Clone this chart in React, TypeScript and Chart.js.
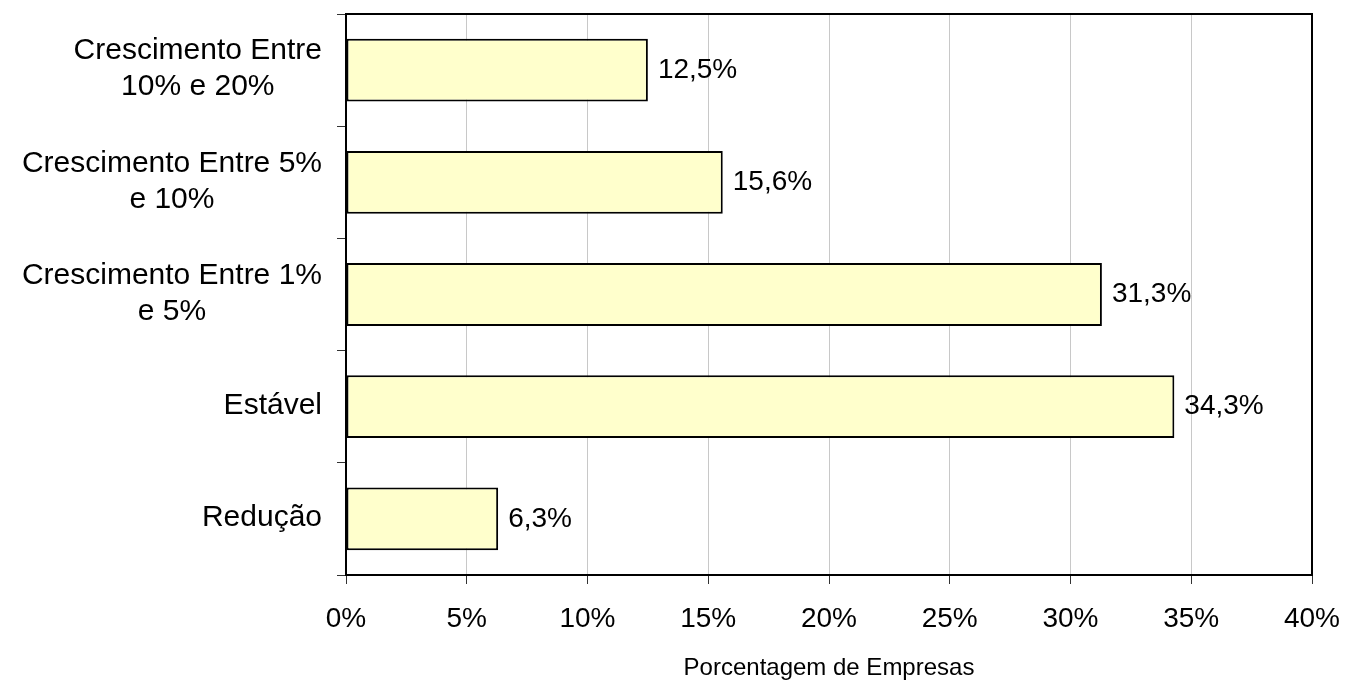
import React, { useEffect, useRef } from "react";
import { Chart, registerables } from "chart.js";

Chart.register(...registerables);

const categories: string[][] = [
  ["Crescimento Entre", "10% e 20%"],
  ["Crescimento Entre 5%", "e 10%"],
  ["Crescimento Entre 1%", "e 5%"],
  ["Estável"],
  ["Redução"],
];
const values: number[] = [12.5, 15.6, 31.3, 34.3, 6.3];
const xTicksMin = 0;
const xTicksMax = 40;
const xTicksStep = 5;
const axisTitle = "Porcentagem de Empresas";

const FONT = '"Liberation Sans", Arial, Helvetica, sans-serif';

const customPlugin = {
  id: "customDraw",
  afterDatasetsDraw(chart: any) {
    const ctx = chart.ctx;
    const area = chart.chartArea;
    const yScale = chart.scales.y;
    ctx.save();
    // frame
    ctx.strokeStyle = "#000";
    ctx.lineWidth = 2;
    ctx.strokeRect(area.left, area.top, area.right - area.left, area.bottom - area.top);

    // y labels (multi-line, centered lines, right-aligned block)
    ctx.font = `30px ${FONT}`;
    ctx.fillStyle = "#000";
    ctx.textAlign = "center";
    ctx.textBaseline = "middle";
    const rightEdge = area.left - 24;
    const lineH = 36;
    categories.forEach((lines, i) => {
      const cy = yScale.getPixelForValue(i);
      const maxW = Math.max(...lines.map((l) => ctx.measureText(l).width));
      const cx = rightEdge - maxW / 2;
      lines.forEach((l, j) => {
        const y = cy + (j - (lines.length - 1) / 2) * lineH - 1;
        ctx.fillText(l, cx, y);
      });
    });

    // data labels
    ctx.font = `28px ${FONT}`;
    const meta = chart.getDatasetMeta(0);
    ctx.textAlign = "left";
    meta.data.forEach((bar: any, i: number) => {
      const txt = values[i].toFixed(1).replace(".", ",") + "%";
      ctx.fillText(txt, bar.x + 10, bar.y);
    });
    ctx.restore();
  },
};

export default function App() {
  const ref = useRef<HTMLCanvasElement>(null);
  useEffect(() => {
    if (!ref.current) return;
    const chart = new Chart(ref.current, {
      type: "bar",
      data: {
        labels: categories.map((c) => c.join(" ")),
        datasets: [
          {
            data: values,
            backgroundColor: "#FFFFCC",
            borderColor: "#000",
            borderWidth: 2,
            borderSkipped: false,
            barPercentage: 0.56,
            categoryPercentage: 1,
          },
        ],
      },
      options: {
        indexAxis: "y",
        animation: false,
        responsive: true,
        maintainAspectRatio: false,
        layout: { padding: { top: 14, right: 35, left: 0, bottom: 0 } },
        plugins: {
          legend: { display: false },
          tooltip: { enabled: false },
        },
        scales: {
          x: {
            min: xTicksMin,
            max: xTicksMax,
            ticks: {
              stepSize: xTicksStep,
              color: "#000",
              font: { family: FONT, size: 28 },
              padding: 18,
              maxRotation: 0,
              callback: (v: any) => v + "%",
            },
            grid: {
              color: "#c8c8c8",
              lineWidth: 1,
              tickColor: "#333",
              tickLength: 9,
              drawTicks: true,
            },
            border: { display: false },
            title: {
              display: true,
              text: axisTitle,
              color: "#000",
              font: { family: FONT, size: 24 },
              padding: { top: 0, bottom: 0 },
            },
            afterFit: (s: any) => {
              s.height = 108;
              s.paddingLeft = 0;
              s.paddingRight = 0;
            },
          },
          y: {
            ticks: { display: false },
            grid: {
              offset: true,
              drawOnChartArea: false,
              drawTicks: true,
              tickLength: 9,
              tickColor: "#333",
              color: "#333",
            },
            border: { display: false },
            afterFit: (s: any) => {
              s.width = 346;
              s.paddingTop = 0;
              s.paddingBottom = 0;
            },
          },
        },
      },
      plugins: [customPlugin],
    });
    return () => chart.destroy();
  }, []);
  return (
    <div style={{ position: "absolute", left: 0, top: 0, width: 1347, height: 683, background: "#fff" }}>
      <canvas ref={ref} />
    </div>
  );
}
